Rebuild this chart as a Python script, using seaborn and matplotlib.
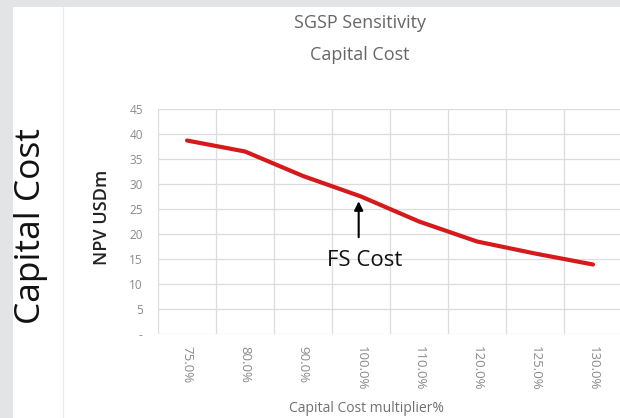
import matplotlib
matplotlib.use("Agg")
import matplotlib.pyplot as plt
from matplotlib.ticker import FuncFormatter, MultipleLocator, FixedLocator
import numpy as np
import pandas as pd
import seaborn as sns

# Capital cost sensitivity of project NPV
multipliers = ["75.0%", "80.0%", "90.0%", "100.0%", "110.0%", "120.0%", "125.0%", "130.0%"]
npv_usdm = [38.7, 36.5, 31.6, 27.5, 22.5, 18.5, 16.1, 13.9]
fs_cost_label = "100.0%"

sns.set_theme(style="white")
plt.rcParams["font.family"] = ["Open Sans", "DejaVu Sans"]

fig = plt.figure(figsize=(6.2, 4.18), dpi=100)
fig.patch.set_facecolor("white")

# slide frame: grey bands on top and left, faint divider line
frame_col = "#e3e4e6"
fig.add_artist(plt.Rectangle((0, 1 - 7 / 418), 1, 7 / 418, transform=fig.transFigure,
                             color=frame_col, lw=0, zorder=0))
fig.add_artist(plt.Rectangle((0, 0), 13 / 620, 1, transform=fig.transFigure,
                             color=frame_col, lw=0, zorder=0))
fig.add_artist(plt.Line2D([63 / 620, 63 / 620], [0, 1 - 7 / 418], transform=fig.transFigure,
                          color="#ececec", lw=0.8))

ax = fig.add_axes([158 / 620, 1 - 334 / 418, 464 / 620, 225 / 418])
df = pd.DataFrame({"mult": multipliers, "npv": npv_usdm})
sns.pointplot(data=df, x="mult", y="npv", ax=ax, color="#d41a1a",
              markers="", linestyles="-", linewidth=3.0, errorbar=None)

ax.set_xlim(-0.5, len(multipliers) - 0.5)
ax.set_ylim(0, 45)
ax.yaxis.set_major_locator(MultipleLocator(5))
ax.yaxis.set_major_formatter(FuncFormatter(lambda v, p: "-" if abs(v) < 1e-9 else f"{v:.0f}"))
ax.xaxis.set_minor_locator(FixedLocator(np.arange(-0.5, len(multipliers), 1.0)))

ax.grid(False)
ax.grid(axis="y", which="major", color="#dcdcdc", lw=0.9)
ax.grid(axis="x", which="minor", color="#dcdcdc", lw=0.9)
for s in ax.spines.values():
    s.set_visible(False)
ax.tick_params(axis="both", which="both", length=0)
ax.tick_params(axis="y", labelsize=8.5, labelcolor="#8a8a8a", pad=11)
ax.tick_params(axis="x", labelsize=9.5, labelcolor="#8a8a8a", pad=9)
for lab in ax.get_xticklabels():
    lab.set_rotation(-90)
    lab.set_va("top")
    lab.set_ha("center")

ax.set_xlabel("Capital Cost multiplier%", fontsize=10, color="#707070")
ax.xaxis.set_label_coords(0.45, -0.3)
ax.set_ylabel("")

# axis title and slide label
fig.text(102 / 620, 1 - 217 / 418, "NPV USDm", rotation=90, ha="center", va="center",
         fontsize=13, color="#222222", fontweight="semibold")
fig.text(31 / 620, 1 - 226 / 418, "Capital Cost", rotation=90, ha="center", va="center",
         fontsize=25.5, color="#111111")

# chart title
fig.text(360 / 620, 1 - 23 / 418, "SGSP Sensitivity", ha="center", va="center",
         fontsize=13, color="#666666")
fig.text(360 / 620, 1 - 55 / 418, "Capital Cost", ha="center", va="center",
         fontsize=13, color="#666666")

# feasibility-study cost marker
fs_idx = multipliers.index(fs_cost_label)
fs_val = npv_usdm[fs_idx]
ax.annotate("", xy=(fs_idx - 0.04, fs_val - 0.4), xytext=(fs_idx - 0.04, fs_val - 8.7),
            arrowprops=dict(arrowstyle="-|>", color="black", lw=1.5, mutation_scale=13))
ax.text(fs_idx + 0.07, fs_val - 12.8, "FS Cost", ha="center", va="center", fontsize=16,
        color="#111111")

fig.savefig("out.png", dpi=100, facecolor="white")
